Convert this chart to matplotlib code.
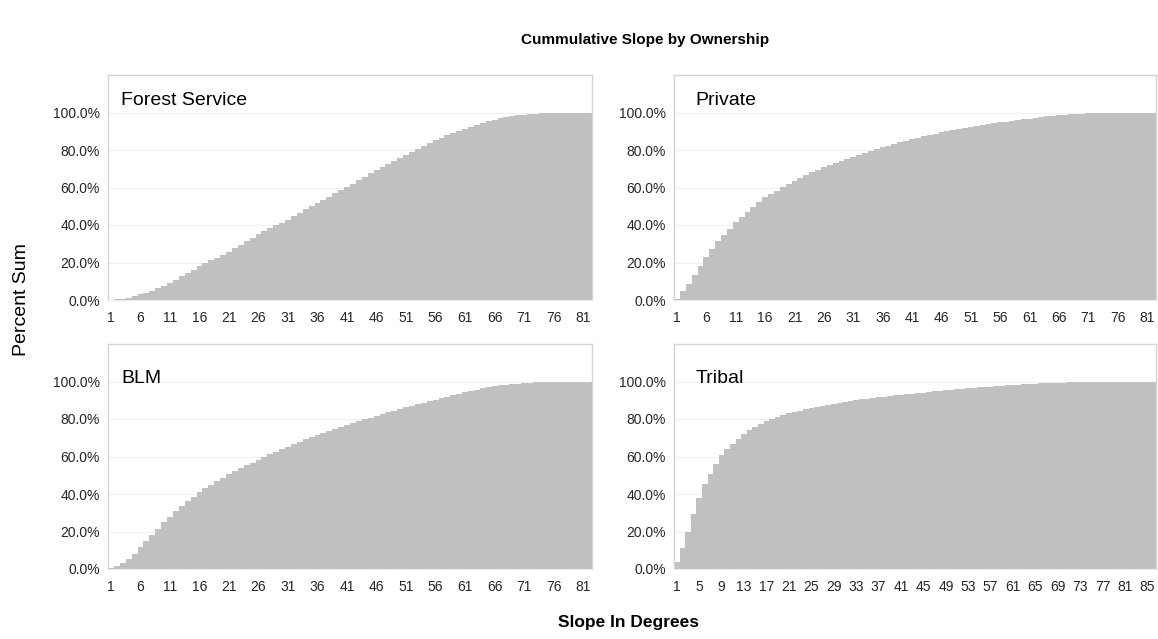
import matplotlib
matplotlib.use("Agg")
import matplotlib.pyplot as plt
from matplotlib.transforms import blended_transform_factory

plt.rcParams['font.family'] = ['Liberation Sans', 'DejaVu Sans']

title = "Cummulative Slope by Ownership"
x_label = "Slope In Degrees"
y_label = "Percent Sum"

forest_service = [0.2, 0.3, 0.5, 1.1, 2.0, 3.0, 4.0, 5.0, 6.2, 7.7,
                  9.2, 10.9, 12.6, 14.4, 16.2, 18.0, 19.6, 21.1, 22.6, 24.1,
                  25.7, 27.5, 29.4, 31.3, 33.3, 35.1, 36.8, 38.4, 39.9, 41.2,
                  42.8, 44.6, 46.5, 48.4, 50.1, 51.7, 53.4, 55.2, 56.9, 58.6,
                  60.3, 62.1, 63.9, 65.7, 67.5, 69.2, 70.8, 72.4, 74.0, 75.6,
                  77.2, 78.9, 80.5, 82.1, 83.7, 85.2, 86.6, 87.9, 89.1, 90.3,
                  91.4, 92.5, 93.5, 94.4, 95.4, 96.2, 96.9, 97.5, 98.1, 98.5,
                  98.9, 99.2, 99.4, 99.6, 99.7, 99.8, 99.9, 99.9, 100, 100,
                  100, 100]

private = [0.8, 4.8, 8.8, 13.4, 18.3, 23.0, 27.2, 31.5, 34.9, 38.1,
           41.4, 44.2, 46.9, 49.6, 52.2, 54.7, 56.6, 58.4, 60.2, 61.9,
           63.6, 65.2, 66.7, 68.1, 69.4, 70.7, 71.9, 73.1, 74.3, 75.4,
           76.5, 77.6, 78.6, 79.6, 80.6, 81.5, 82.4, 83.3, 84.2, 85.0,
           85.8, 86.6, 87.3, 88.0, 88.7, 89.4, 90.0, 90.6, 91.2, 91.8,
           92.4, 93.0, 93.5, 94.0, 94.4, 94.8, 95.2, 95.6, 96.0, 96.4,
           96.8, 97.2, 97.6, 97.9, 98.2, 98.5, 98.8, 99.0, 99.2, 99.4,
           99.6, 99.7, 99.8, 99.9, 99.9, 100, 100, 100, 100, 100,
           100, 100]

blm = [0.5, 1.5, 3.2, 5.3, 8.0, 11.5, 15.0, 18.3, 21.6, 25.0,
       28.0, 30.8, 33.5, 36.2, 38.6, 40.9, 43.0, 45.0, 46.9, 48.7,
       50.5, 52.2, 53.8, 55.3, 56.8, 58.3, 59.8, 61.2, 62.6, 64.0,
       65.3, 66.6, 67.9, 69.1, 70.3, 71.4, 72.5, 73.6, 74.7, 75.8,
       76.8, 77.8, 78.8, 79.8, 80.8, 81.8, 82.7, 83.6, 84.5, 85.4,
       86.3, 87.2, 88.0, 88.8, 89.6, 90.4, 91.2, 92.0, 92.8, 93.6,
       94.3, 95.0, 95.7, 96.3, 96.9, 97.4, 97.9, 98.3, 98.6, 98.9,
       99.1, 99.3, 99.5, 99.7, 99.8, 99.9, 100, 100, 100, 100,
       100, 100]

tribal = [3.7, 11.0, 20.0, 29.2, 37.8, 45.2, 50.8, 56.0, 60.6, 64.0,
          66.8, 69.5, 71.8, 74.0, 75.9, 77.6, 79.0, 80.2, 81.2, 82.1,
          83.0, 83.8, 84.5, 85.2, 85.8, 86.4, 87.0, 87.6, 88.2, 88.7,
          89.2, 89.7, 90.1, 90.5, 90.9, 91.3, 91.7, 92.0, 92.3, 92.6,
          92.9, 93.2, 93.5, 93.8, 94.1, 94.4, 94.7, 95.0, 95.3, 95.6,
          95.9, 96.2, 96.5, 96.7, 96.9, 97.1, 97.3, 97.5, 97.7, 97.9,
          98.1, 98.3, 98.5, 98.7, 98.9, 99.0, 99.1, 99.2, 99.3, 99.4,
          99.5, 99.6, 99.7, 99.8, 99.9, 99.9, 100, 100, 100, 100,
          100, 100, 100, 100, 100, 100]

panel_names = ["Forest Service", "Private", "BLM", "Tribal"]
panel_data = [forest_service, private, blm, tribal]
tick_steps = [5, 5, 5, 4]
y_ticks = [0, 20, 40, 60, 80, 100]
y_tick_labels = ["0.0%", "20.0%", "40.0%", "60.0%", "80.0%", "100.0%"]

W, H = 1158, 639
fig = plt.figure(figsize=(W / 100, H / 100), dpi=100)

# axes boxes in pixels: (left, top, right, bottom)
boxes = [(108, 75, 592, 300), (674, 75, 1156, 300),
         (108, 344, 592, 569), (674, 344, 1156, 569)]
label_dx = [0.027, 0.044, 0.027, 0.044]
label_y = [106.5, 106.5, 101.5, 101.5]

bar_color = "#c0c0c0"
text_color = "#262626"

for i, (name, vals, step) in enumerate(zip(panel_names, panel_data, tick_steps)):
    l, t, r, b = boxes[i]
    ax = fig.add_axes([l / W, 1 - b / H, (r - l) / W, (b - t) / H])
    n = len(vals)
    xs = list(range(1, n + 1))
    ax.bar(xs, vals, width=1.0, color=bar_color, linewidth=0, zorder=2)
    ax.set_xlim(0.5, n + 0.5)
    ax.set_ylim(0, 120)
    ax.set_yticks(y_ticks)
    ax.set_yticklabels(y_tick_labels)
    xt = xs[::step]
    ax.set_xticks(xt)
    ax.set_xticklabels([str(v) for v in xt])
    ax.tick_params(axis='both', length=0, labelsize=10, labelcolor=text_color)
    ax.tick_params(axis='y', pad=6)
    ax.tick_params(axis='x', pad=8)
    ax.grid(axis='y', color='#f0f0f0', linewidth=0.8, zorder=0)
    ax.set_axisbelow(True)
    for s in ['top', 'left', 'right']:
        ax.spines[s].set_color('#d4d4d4')
        ax.spines[s].set_linewidth(1.0)
    ax.spines['bottom'].set_color('#e6e6e6')
    ax.spines['bottom'].set_linestyle((0, (1, 1.5)))
    tr = blended_transform_factory(ax.transAxes, ax.transData)
    ax.text(label_dx[i], label_y[i], name, transform=tr, fontsize=14,
            color='#000000', va='center', ha='left')

fig.text(645 / W, 1 - 40 / H, title, ha='center', va='center',
         fontsize=11, fontweight='bold', color='#000000')
fig.text(628 / W, 1 - 622 / H, x_label, ha='center', va='center',
         fontsize=12.5, fontweight='bold', color='#000000')
fig.text(22 / W, 1 - 300 / H, y_label, ha='center', va='center',
         rotation=90, fontsize=14, color='#000000')

fig.savefig("out.png", dpi=100, facecolor='white')
